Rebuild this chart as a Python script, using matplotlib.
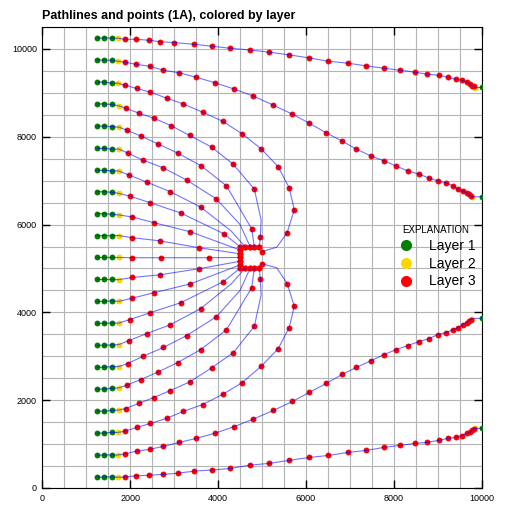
import matplotlib
matplotlib.use("Agg")
import matplotlib.pyplot as plt
from matplotlib.lines import Line2D

plt.rcParams['font.family'] = ['Liberation Sans', 'DejaVu Sans']

# model grid (delr = delc = 500)
grid_x = [0, 500, 1000, 1500, 2000, 2500, 3000, 3500, 4000, 4500, 5000,
          5500, 6000, 6500, 7000, 7500, 8000, 8500, 9000, 9500, 10000]
grid_y = [0, 500, 1000, 1500, 2000, 2500, 3000, 3500, 4000, 4500, 5000,
          5500, 6000, 6500, 7000, 7500, 8000, 8500, 9000, 9500, 10000, 10500]

layer_names = ['Layer 1', 'Layer 2', 'Layer 3']
layer_colors = ['green', '#ffd700', 'red']

# pathline points: (x, y, layer); layer 0 = line vertex only
p01 = [(1250, 10250, 1), (1400, 10250, 1), (1575, 10250, 1), (1710, 10245, 2),
       (1870, 10220, 3), (2120, 10220, 3), (2415, 10200, 3), (2665, 10165, 3),
       (3005, 10145, 3), (3460, 10105, 3), (3870, 10060, 3), (4280, 10015, 3),
       (4730, 9975, 3), (5165, 9925, 3), (5620, 9865, 3), (6075, 9795, 3),
       (6505, 9720, 3), (6960, 9675, 3), (7370, 9615, 3), (7780, 9560, 3),
       (8145, 9515, 3), (8485, 9470, 3), (8755, 9425, 3), (9030, 9400, 3),
       (9235, 9355, 3), (9415, 9310, 3), (9550, 9290, 3), (9665, 9245, 3),
       (9735, 9200, 3), (9780, 9165, 3), (9825, 9145, 3), (9850, 9120, 2),
       (10000, 9125, 1)]
p02 = [(1250, 9750, 1), (1400, 9750, 1), (1575, 9740, 1), (1710, 9720, 2),
       (1870, 9700, 3), (2135, 9650, 3), (2440, 9605, 3), (2755, 9515, 3),
       (3120, 9455, 3), (3505, 9355, 3), (3940, 9225, 3), (4370, 9085, 3),
       (4805, 8925, 3), (5255, 8720, 3), (5690, 8515, 3), (6075, 8310, 3),
       (6460, 8090, 3), (6825, 7900, 3), (7145, 7720, 3), (7485, 7560, 3),
       (7780, 7450, 3), (8050, 7335, 3), (8325, 7220, 3), (8575, 7150, 3),
       (8800, 7060, 3), (9005, 6995, 3), (9190, 6950, 3), (9350, 6880, 3),
       (9460, 6810, 3), (9575, 6765, 3), (9660, 6720, 3), (9710, 6690, 3),
       (9755, 6650, 3), (9780, 6630, 2), (10000, 6635, 1)]
p03 = [(1250, 9245, 1), (1400, 9245, 1), (1575, 9220, 1), (1710, 9220, 2),
       (1870, 9175, 3), (2145, 9100, 3), (2460, 9015, 3), (2825, 8880, 3),
       (3210, 8745, 3), (3645, 8560, 3), (4100, 8355, 3), (4555, 8060, 3),
       (4985, 7720, 3), (5370, 7315, 3), (5620, 6835, 3), (5735, 6335, 3),
       (5570, 5810, 3), (5335, 5485, 0), (5005, 5385, 3)]
p04 = [(1250, 8750, 1), (1400, 8750, 1), (1575, 8735, 1), (1735, 8705, 2),
       (1895, 8650, 3), (2190, 8540, 3), (2530, 8425, 3), (2925, 8255, 3),
       (3350, 8030, 3), (3850, 7765, 3), (4335, 7380, 3), (4825, 6810, 3),
       (4980, 6100, 0), (4960, 5720, 3), (4940, 5495, 3)]
p05 = [(1250, 8245, 1), (1400, 8245, 1), (1575, 8230, 1), (1735, 8220, 2),
       (1915, 8150, 3), (2245, 8015, 3), (2630, 7835, 3), (3075, 7630, 3),
       (3620, 7335, 3), (4190, 6880, 3), (4765, 5900, 3), (4825, 5495, 3)]
p06 = [(1250, 7735, 1), (1400, 7735, 1), (1575, 7720, 1), (1735, 7720, 2),
       (1940, 7630, 3), (2280, 7470, 3), (2755, 7290, 3), (3280, 7015, 3),
       (3960, 6585, 3), (4500, 6000, 0), (4730, 5495, 3)]
p07 = [(1250, 7235, 1), (1400, 7235, 1), (1575, 7225, 1), (1735, 7220, 2),
       (1960, 7130, 3), (2370, 6970, 3), (2915, 6745, 3), (3600, 6400, 3),
       (4300, 5850, 0), (4615, 5495, 3)]
p08 = [(1250, 6750, 1), (1400, 6750, 1), (1575, 6735, 1), (1735, 6710, 2),
       (1985, 6650, 3), (2460, 6495, 3), (3145, 6265, 3), (4130, 5790, 3),
       (4500, 5495, 3)]
p09 = [(1250, 6250, 1), (1400, 6250, 1), (1575, 6235, 1), (1735, 6220, 2),
       (2030, 6175, 3), (2550, 6040, 3), (3370, 5835, 3), (4500, 5420, 3)]
p10 = [(1250, 5750, 1), (1400, 5750, 1), (1575, 5750, 1), (1735, 5750, 2),
       (2050, 5700, 3), (2665, 5630, 3), (3575, 5470, 3), (4500, 5335, 3)]
p11 = [(1250, 5250, 1), (1400, 5250, 1), (1575, 5250, 1), (1735, 5250, 2),
       (2050, 5245, 3), (2710, 5245, 3), (3800, 5245, 3), (4500, 5250, 3)]
p12 = [(1250, 4750, 1), (1400, 4750, 1), (1575, 4750, 1), (1735, 4745, 2),
       (2050, 4795, 3), (2665, 4855, 3), (3575, 4995, 3), (4500, 5165, 3)]
p13 = [(1250, 4250, 1), (1400, 4250, 1), (1575, 4265, 1), (1735, 4250, 2),
       (2030, 4320, 3), (2550, 4450, 3), (3370, 4650, 3), (4500, 5080, 3)]
p14 = [(1250, 3750, 1), (1400, 3750, 1), (1575, 3760, 1), (1735, 3755, 2),
       (1985, 3835, 3), (2460, 3995, 3), (3150, 4220, 3), (4120, 4700, 3),
       (4500, 5005, 3)]
p15 = [(1250, 3250, 1), (1400, 3250, 1), (1575, 3260, 1), (1735, 3265, 2),
       (1960, 3355, 3), (2370, 3515, 3), (2915, 3720, 3), (3600, 4085, 3),
       (4300, 4650, 0), (4615, 5005, 3)]
p16 = [(1250, 2750, 1), (1400, 2750, 1), (1575, 2765, 1), (1735, 2765, 2),
       (1940, 2835, 3), (2280, 2995, 3), (2755, 3200, 3), (3280, 3470, 3),
       (3960, 3900, 3), (4500, 4500, 0), (4730, 5005, 3)]
p17 = [(1250, 2255, 1), (1400, 2255, 1), (1575, 2270, 1), (1735, 2280, 2),
       (1915, 2340, 3), (2235, 2470, 3), (2620, 2635, 3), (3075, 2855, 3),
       (3600, 3150, 3), (4190, 3605, 3), (4765, 4560, 3), (4825, 5005, 3)]
p18 = [(1250, 1750, 1), (1400, 1750, 1), (1575, 1765, 1), (1735, 1775, 2),
       (1895, 1810, 3), (2190, 1925, 3), (2530, 2060, 3), (2915, 2220, 3),
       (3350, 2415, 3), (3850, 2735, 3), (4350, 3085, 3), (4825, 3685, 3),
       (4980, 4400, 0), (4960, 4770, 3), (4940, 5005, 3)]
p19 = [(1250, 1250, 1), (1400, 1250, 1), (1575, 1265, 1), (1710, 1265, 2),
       (1870, 1290, 3), (2145, 1380, 3), (2460, 1470, 3), (2825, 1585, 3),
       (3210, 1745, 3), (3645, 1900, 3), (4100, 2130, 3), (4550, 2400, 3),
       (4985, 2775, 3), (5370, 3175, 3), (5620, 3655, 3), (5735, 4140, 3),
       (5575, 4655, 3), (5335, 5015, 0), (5005, 5105, 3)]
p20 = [(1250, 750, 1), (1400, 750, 1), (1575, 755, 1), (1710, 750, 2),
       (1870, 775, 3), (2145, 840, 3), (2440, 880, 3), (2755, 950, 3),
       (3120, 1040, 3), (3505, 1130, 3), (3940, 1250, 3), (4370, 1400, 3),
       (4805, 1570, 3), (5255, 1765, 3), (5690, 1970, 3), (6075, 2175, 3),
       (6460, 2380, 3), (6825, 2585, 3), (7145, 2745, 3), (7485, 2900, 3),
       (7780, 3040, 3), (8050, 3150, 3), (8325, 3245, 3), (8575, 3335, 3),
       (8800, 3400, 3), (9005, 3495, 3), (9190, 3540, 3), (9350, 3605, 3),
       (9460, 3650, 3), (9575, 3720, 3), (9660, 3765, 3), (9710, 3795, 3),
       (9755, 3835, 3), (9780, 3855, 2), (10000, 3865, 1)]
p21 = [(1250, 250, 1), (1400, 250, 1), (1575, 255, 1), (1710, 245, 2),
       (1870, 250, 3), (2120, 275, 3), (2415, 290, 3), (2735, 310, 3),
       (3075, 335, 3), (3460, 385, 3), (3870, 410, 3), (4280, 445, 3),
       (4720, 520, 3), (5165, 560, 3), (5620, 630, 3), (6075, 695, 3),
       (6505, 740, 3), (6960, 810, 3), (7370, 855, 3), (7780, 925, 3),
       (8145, 970, 3), (8485, 1015, 3), (8755, 1040, 3), (9030, 1085, 3),
       (9235, 1130, 3), (9415, 1150, 3), (9550, 1195, 3), (9665, 1245, 3),
       (9735, 1265, 3), (9780, 1310, 3), (9825, 1335, 3), (9850, 1355, 2),
       (10000, 1360, 1)]

# well cell: points where particles terminate on the cell faces
well_x = [4500, 4615, 4730, 4825, 4940, 4500, 4500, 4500, 4500, 4500, 4500,
          4615, 4730, 4825, 4940]
well_y = [5495, 5495, 5495, 5495, 5495, 5420, 5335, 5250, 5165, 5080, 5005,
          5005, 5005, 5005, 5005]

paths = [p01, p02, p03, p04, p05, p06, p07, p08, p09, p10, p11,
         p12, p13, p14, p15, p16, p17, p18, p19, p20, p21]

fig = plt.figure(figsize=(5.05, 5.12), dpi=100)
ax = fig.add_axes([0.0832, 0.0469, 0.8713, 0.9004])

for gx in grid_x:
    ax.axvline(gx, color='#b4b4b4', lw=0.8, zorder=1)
for gy in grid_y:
    ax.axhline(gy, color='#b4b4b4', lw=0.8, zorder=1)

for p in paths:
    xs = [q[0] for q in p]
    ys = [q[1] for q in p]
    for lay in (1, 2, 3):
        px = [q[0] for q in p if q[2] == lay]
        py = [q[1] for q in p if q[2] == lay]
        ax.scatter(px, py, s=18, color=layer_colors[lay - 1], lw=0, zorder=3)
    ax.plot(xs, ys, color='blue', lw=0.8, alpha=0.55, zorder=4)

ax.scatter(well_x, well_y, s=18, color='red', lw=0, zorder=3)

ax.set_xlim(0, 10000)
ax.set_ylim(0, 10500)
ax.set_aspect('equal')
ax.set_xticks([0, 2000, 4000, 6000, 8000, 10000])
ax.set_yticks([0, 2000, 4000, 6000, 8000, 10000])
ax.tick_params(direction='in', top=True, right=True, length=6, width=1,
               labelsize=6.5, pad=4)
ax.set_title('Pathlines and points (1A), colored by layer', loc='left',
             fontweight='bold', fontsize=9, pad=6)

handles = [Line2D([], [], ls='', marker='o', markersize=8, color=c,
                  markeredgewidth=0) for c in layer_colors]
leg = ax.legend(handles, layer_names, title='EXPLANATION', frameon=False,
                loc='upper left', bbox_to_anchor=(0.783, 0.592), fontsize=10,
                title_fontsize=7, handlelength=1.5, handletextpad=0.9,
                labelspacing=0.28, borderpad=0.2)

fig.savefig('out.png', dpi=100)
